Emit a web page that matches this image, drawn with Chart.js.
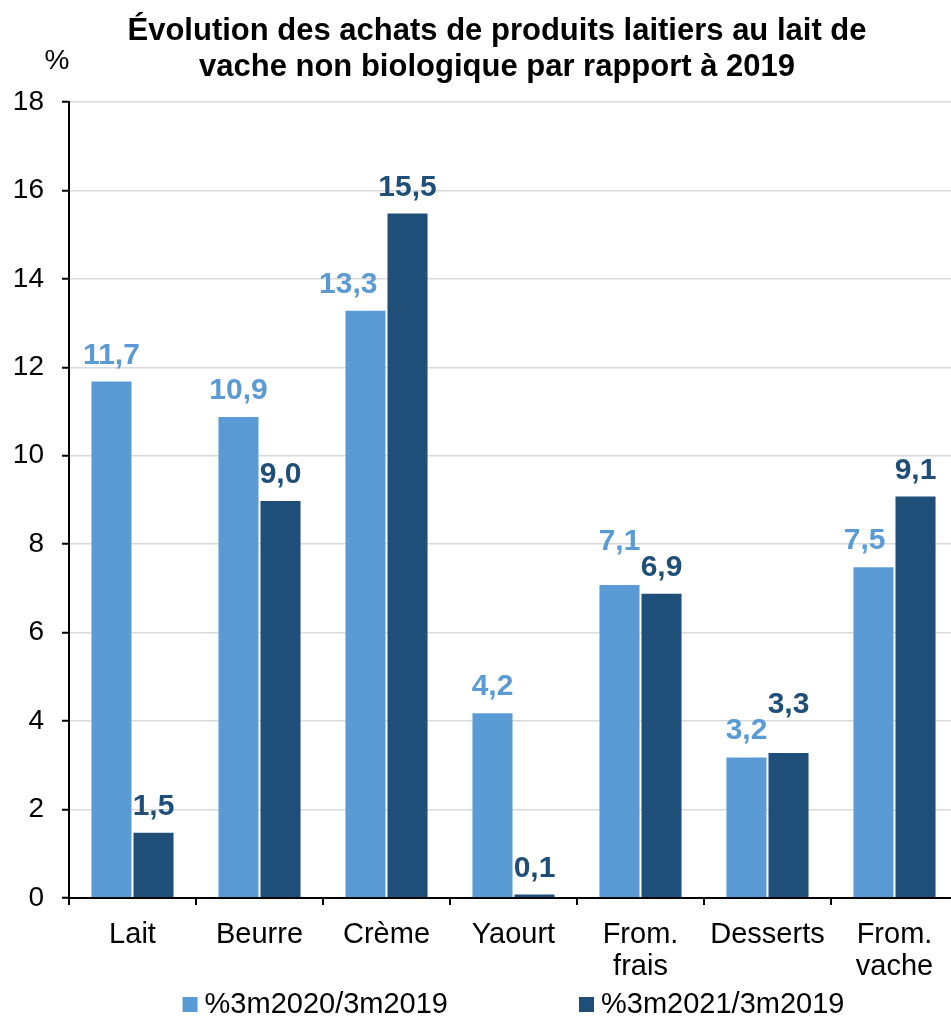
<!DOCTYPE html>
<html lang="fr">
<head>
<meta charset="utf-8">
<title>Évolution des achats de produits laitiers</title>
<script src="https://cdn.jsdelivr.net/npm/chart.js@4.4.1/dist/chart.umd.min.js"></script>
<style>
  html, body { margin: 0; padding: 0; background: #ffffff; overflow: hidden; }
  #wrap { width: 960px; height: 1020px; }
</style>
</head>
<body>
<div id="wrap"><canvas id="chart" width="960" height="1020"></canvas></div>
<script>
// Catégories de produits (libellés sur deux lignes quand nécessaire)
const categories = [
  'Lait', 'Beurre', 'Crème', 'Yaourt',
  ['From.', 'frais'], 'Desserts', ['From.', 'vache']
];

// Évolution en % des achats (3 premiers mois) par rapport à 2019
const evol2020 = [11.7, 10.9, 13.3, 4.2, 7.1, 3.2, 7.5];
const evol2021 = [1.5, 9.0, 15.5, 0.1, 6.9, 3.3, 9.1];

const seriesNames = ['%3m2020/3m2019', '%3m2021/3m2019'];
const yTicks = [0, 2, 4, 6, 8, 10, 12, 14, 16, 18];

const titleLines = [
  'Évolution des achats de produits laitiers au lait de',
  'vache non biologique par rapport à 2019'
];
const unitLabel = '%';

const FONT = "'Liberation Sans', Arial, Helvetica, sans-serif";
const COL_LIGHT = '#5B9BD5';
const COL_DARK = '#1F4E79';

// Libellés de valeur au format français (virgule décimale)
const fmt = v => v.toFixed(1).replace('.', ',');

// Titre et unité de l'axe vertical
const headerPlugin = {
  id: 'header',
  afterDraw(chart) {
    const ctx = chart.ctx;
    ctx.save();
    ctx.fillStyle = '#000';
    ctx.textAlign = 'center';
    ctx.textBaseline = 'alphabetic';
    ctx.font = 'bold 31px ' + FONT;
    ctx.fillText(titleLines[0], 497, 40);
    ctx.fillText(titleLines[1], 497, 76);
    ctx.font = '28px ' + FONT;
    ctx.fillText(unitLabel, 57, 69);
    ctx.restore();
  }
};

// Étiquettes de valeur au-dessus des barres, avec décalage en cas de chevauchement
const valueLabelPlugin = {
  id: 'valueLabels',
  afterDatasetsDraw(chart) {
    const ctx = chart.ctx;
    const m0 = chart.getDatasetMeta(0).data;
    const m1 = chart.getDatasetMeta(1).data;
    const d0 = chart.data.datasets[0].data;
    const d1 = chart.data.datasets[1].data;
    ctx.save();
    ctx.font = 'bold 30px ' + FONT;
    ctx.textAlign = 'center';
    ctx.textBaseline = 'alphabetic';
    const gap = 17;
    for (let i = 0; i < m0.length; i++) {
      const a = m0[i], b = m1[i];
      const ta = fmt(d0[i]), tb = fmt(d1[i]);
      const wa = ctx.measureText(ta).width;
      let xa = a.x, ya = a.y - gap;
      let xb = b.x, yb = b.y - gap;
      // deux étiquettes à la même hauteur : on remonte la plus haute
      if (Math.abs(ya - yb) < 24) {
        if (ya <= yb) ya = yb - 26; else yb = ya - 26;
      }
      // étiquette claire masquée par la barre foncée voisine : décalage à gauche
      const darkLeft = b.x - b.width / 2;
      if (ya > b.y && xa + wa / 2 > darkLeft - 9) {
        xa = darkLeft - 9 - wa / 2;
      }
      ctx.fillStyle = COL_LIGHT;
      ctx.fillText(ta, xa, ya);
      ctx.fillStyle = COL_DARK;
      ctx.fillText(tb, xb, yb);
    }
    ctx.restore();
  }
};

// Légende horizontale sous le graphique
const legendPlugin = {
  id: 'bottomLegend',
  afterDraw(chart) {
    const ctx = chart.ctx;
    const area = chart.chartArea;
    ctx.save();
    ctx.font = '29px ' + FONT;
    ctx.textBaseline = 'alphabetic';
    ctx.textAlign = 'left';
    const box = 15, boxGap = 7, itemGap = 131;
    const items = chart.data.datasets.map(ds => ({
      label: ds.label, color: ds.backgroundColor,
      w: box + boxGap + ctx.measureText(ds.label).width
    }));
    const total = items.reduce((s, it) => s + it.w, 0) + itemGap * (items.length - 1);
    let x = (area.left + area.right) / 2 - total / 2;
    const baseline = 1013;
    items.forEach(it => {
      ctx.fillStyle = it.color;
      ctx.fillRect(x, baseline - 16, box, box);
      ctx.fillStyle = '#000';
      ctx.fillText(it.label, x + box + boxGap, baseline);
      x += it.w + itemGap;
    });
    ctx.restore();
  }
};

new Chart(document.getElementById('chart'), {
  type: 'bar',
  data: {
    labels: categories,
    datasets: [
      { label: seriesNames[0], data: evol2020, backgroundColor: COL_LIGHT,
        borderColor: 'rgba(255,255,255,0.3)', borderWidth: 1 },
      { label: seriesNames[1], data: evol2021, backgroundColor: COL_DARK,
        borderColor: 'rgba(255,255,255,0.25)', borderWidth: 1 }
    ]
  },
  options: {
    responsive: false,
    animation: false,
    events: [],
    datasets: { bar: { categoryPercentage: 0.662, barPercentage: 1.0 } },
    layout: { padding: { top: 102, right: 2, bottom: 40, left: 0 } },
    plugins: {
      legend: { display: false },
      title: { display: false },
      tooltip: { enabled: false }
    },
    scales: {
      x: {
        grid: {
          offset: true, drawOnChartArea: false, drawTicks: true,
          tickLength: 7, color: '#000', lineWidth: 2
        },
        border: { display: true, color: '#000', width: 2 },
        ticks: {
          color: '#000', padding: 14, maxRotation: 0, autoSkip: false,
          font: { family: FONT, size: 29, lineHeight: 1.1 }
        },
        afterFit(scale) { scale.height = 82; }
      },
      y: {
        min: 0, max: 18,
        afterBuildTicks(scale) { scale.ticks = yTicks.map(v => ({ value: v })); },
        grid: {
          color: '#d9d9d9', lineWidth: 1.5, drawTicks: true, tickLength: 7,
          tickColor: '#000', tickWidth: 2
        },
        border: { display: true, color: '#000', width: 2 },
        ticks: {
          color: '#000', padding: 18,
          font: { family: FONT, size: 28 },
          callback: v => String(v)
        },
        afterFit(scale) { scale.width = 69; }
      }
    }
  },
  plugins: [headerPlugin, valueLabelPlugin, legendPlugin]
});
</script>
</body>
</html>
